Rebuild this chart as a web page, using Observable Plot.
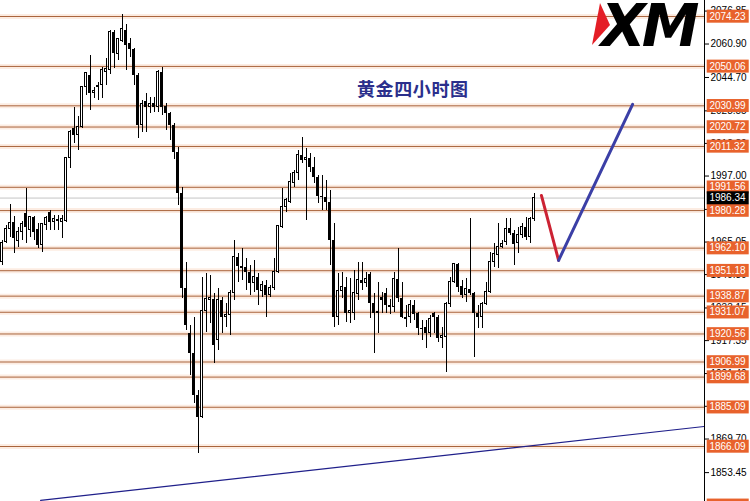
<!DOCTYPE html>
<html><head><meta charset="utf-8">
<script src="https://cdn.jsdelivr.net/npm/d3@7"></script>
<script src="https://cdn.jsdelivr.net/npm/@observablehq/plot@0.6"></script>
<style>
html,body{margin:0;padding:0;background:#fff;}
#wrap{position:relative;width:750px;height:501px;overflow:hidden;}
#title{position:absolute;left:357px;top:79px;line-height:18px;font-family:"Noto Sans CJK SC";font-size:18px;font-weight:700;letter-spacing:0.6px;color:#2b2f8c;white-space:nowrap;}
#logo{position:absolute;left:588px;top:0;overflow:visible;}
</style></head><body>
<div id="wrap"><div id="chart"></div><div id="title">黄金四小时图</div>
<svg id="logo" width="118" height="50"><polygon points="12,3 22,25 4,45" fill="#e41e26"/><text x="13" y="46" font-family="DejaVu Sans" font-size="58" font-weight="900" font-style="italic" letter-spacing="-4" fill="#000">XM</text></svg>
</div>
<script>
const open = [
1955.2,1964.9,1971.6,1974.5,1965.8,1969.7,1978.9,1970.7,1977.0,1971.2,
1963.4,1973.1,1979.4,1974.6,1975.3,1974.6,1975.0,2005.5,2020.0,2016.7,
2020.5,2039.9,2045.7,2037.0,2040.1,2040.9,2047.6,2048.1,2066.5,2056.3,
2062.6,2067.5,2061.2,2058.3,2045.7,2021.5,2033.1,2030.2,2032.1,2030.2,
2047.2,2030.7,2027.3,2021.5,2008.4,1988.6,1942.6,1920.8,1911.1,1890.8,
1880.2,1931.9,1936.8,1937.3,1917.4,1936.8,1928.6,1929.5,1940.2,1957.6,
1952.3,1952.8,1950.4,1945.0,1947.9,1941.6,1944.1,1939.2,1942.6,1950.4,
1972.1,1981.8,1984.2,1993.4,1998.3,2007.0,2004.6,2005.5,2001.2,1996.3,
1987.1,1986.6,1984.2,1965.8,1928.6,1941.6,1943.1,1930.5,1930.5,1939.7,
1946.5,1945.0,1949.4,1935.3,1930.5,1938.3,1940.2,1934.4,1933.4,1947.0,
1937.8,1928.6,1928.6,1934.4,1930.5,1923.2,1923.7,1920.8,1930.5,1928.6,
1918.4,1918.9,1934.9,1945.5,1954.2,1943.6,1939.2,1942.1,1940.2,1930.5,
1928.6,1935.3,1940.7,1955.2,1958.6,1962.5,1964.9,1971.6,1969.2,1964.4,
1968.7,1972.1,1967.3,1976.0];
const high = [
1965.8,1973.1,1983.3,1977.5,1972.1,1975.0,1991.0,1977.5,1977.5,1974.1,
1974.1,1977.5,1980.4,1977.9,1977.9,1977.9,2006.0,2019.1,2030.2,2025.9,
2040.4,2047.2,2055.4,2039.9,2042.3,2049.6,2053.9,2067.5,2067.5,2063.6,
2075.2,2070.4,2063.6,2058.8,2046.7,2033.6,2037.0,2035.1,2035.1,2048.1,
2049.6,2032.1,2027.8,2022.5,2010.9,1991.5,1955.2,1924.7,1928.6,1893.2,
1947.9,1949.9,1948.9,1940.2,1942.6,1938.3,1935.3,1941.6,1965.8,1959.5,
1962.0,1957.1,1953.7,1956.2,1949.9,1946.0,1946.5,1944.1,1957.1,1973.1,
1991.0,1986.2,1998.3,1999.7,2009.4,2015.7,2010.4,2007.9,2006.0,1997.3,
1997.3,1994.9,1990.0,1974.1,1949.9,1950.4,1947.9,1947.4,1951.3,1955.2,
1955.2,1950.4,1950.4,1940.2,1945.5,1940.7,1942.6,1937.3,1950.4,1962.0,
1945.5,1934.4,1936.8,1936.8,1931.0,1927.1,1927.1,1929.5,1931.0,1929.5,
1923.7,1935.8,1947.9,1954.7,1954.7,1946.5,1947.4,1976.5,1940.7,1934.4,
1935.8,1945.5,1960.0,1964.4,1974.1,1965.8,1976.5,1976.5,1970.7,1972.1,
1974.1,1977.0,1977.0,1988.6];
const low = [
1953.7,1964.4,1967.3,1959.5,1962.5,1965.8,1964.4,1967.3,1965.8,1962.0,
1960.0,1970.7,1970.7,1970.7,1970.7,1966.8,1974.6,2000.7,2012.8,2009.4,
2020.0,2036.0,2028.8,2034.6,2033.6,2034.6,2040.9,2046.2,2049.1,2053.0,
2061.7,2048.1,2054.4,2040.9,2015.2,2018.1,2018.1,2027.3,2027.8,2027.8,
2026.3,2019.1,2014.2,2005.0,1982.8,1937.8,1922.3,1900.5,1886.9,1862.7,
1879.7,1921.3,1925.7,1906.3,1912.6,1920.8,1923.7,1919.9,1936.8,1945.5,
1946.5,1941.6,1939.2,1940.7,1934.4,1938.3,1928.6,1938.3,1941.6,1949.9,
1971.6,1979.4,1983.7,1991.5,1994.9,2003.1,1975.5,1998.8,1993.4,1983.7,
1980.4,1980.4,1953.7,1923.7,1924.7,1937.8,1926.2,1925.7,1927.1,1936.8,
1941.6,1943.1,1928.1,1911.1,1920.8,1930.5,1930.5,1930.0,1931.0,1935.8,
1928.1,1923.7,1925.7,1927.1,1919.9,1917.4,1913.6,1918.9,1920.8,1916.5,
1913.6,1901.9,1933.4,1945.0,1940.7,1937.8,1935.8,1939.2,1909.2,1923.2,
1923.2,1934.4,1940.2,1952.8,1952.3,1962.0,1963.4,1968.3,1953.7,1959.5,
1966.8,1965.8,1964.4,1975.0];
const close = [
1964.4,1971.6,1974.5,1966.8,1969.7,1973.6,1972.1,1977.0,1969.7,1963.4,
1973.6,1976.5,1974.6,1976.0,1975.8,1976.0,2005.5,2018.1,2016.7,2020.5,
2039.9,2046.7,2037.0,2038.0,2040.4,2048.1,2048.6,2066.5,2056.3,2063.1,
2068.0,2060.2,2058.3,2045.7,2021.5,2031.7,2030.2,2032.1,2030.2,2047.2,
2030.2,2027.3,2021.5,2008.4,1988.6,1942.6,1924.7,1911.1,1890.8,1880.2,
1931.9,1937.3,1937.8,1915.0,1936.8,1928.6,1929.5,1940.2,1957.6,1953.3,
1952.8,1950.4,1945.0,1947.9,1941.6,1944.1,1939.2,1942.6,1950.4,1972.6,
1981.8,1985.2,1993.9,1998.3,2007.0,2004.6,2005.5,2001.2,1996.3,1987.1,
1986.4,1984.2,1965.8,1928.6,1941.6,1943.1,1930.5,1931.5,1940.2,1946.5,
1945.0,1947.0,1935.3,1930.5,1931.0,1936.8,1934.4,1933.4,1947.0,1937.8,
1928.6,1927.8,1934.4,1930.0,1923.2,1922.5,1920.8,1927.6,1928.6,1918.4,
1919.4,1935.3,1945.5,1954.2,1943.1,1939.2,1942.1,1940.2,1930.5,1928.6,
1935.3,1940.7,1955.2,1959.1,1962.5,1963.9,1971.6,1969.2,1963.9,1968.7,
1972.1,1967.3,1976.0,1986.34];

const levels = [2074.23,2050.06,2030.99,2020.72,2011.32,1991.56,1980.28,1962.10,1951.18,1938.87,1931.07,1920.56,1906.99,1899.68,1885.09,1866.09,1837.60];
const currentPrice = 1986.34;
const yTicks = [2076.85,2060.90,2044.70,2028.55,2012.80,1997.00,1980.85,1965.05,1949.30,1933.15,1917.35,1901.40,1885.55,1869.70,1853.45];

const trendX = [9.6, 175.6];
const trendY = [1840.0, 1875.8];
const downX = [134.8, 139.1];
const downY = [1987.6, 1956.2];
const upX = [139.1, 157.6];
const upY = [1956.2, 2031.7];

const candles = open.map((o, i) => ({i, o, h: high[i], l: low[i], c: close[i]}));
const bull = candles.filter(d => d.c >= d.o);
const bear = candles.filter(d => d.c < d.o);
const pts = (xs, ys) => xs.map((x, k) => ({x, y: ys[k]}));

const xDom = [-0.425, 175.575];
const chart = Plot.plot({
  width: 750, height: 501,
  marginLeft: 0, marginRight: 46, marginTop: 0, marginBottom: 0,
  style: {background: "#fff", fontFamily: "Liberation Sans", fontSize: "10px", color: "#000", overflow: "hidden"},
  x: {domain: xDom, axis: null},
  y: {domain: [1839.47, 2081.97], axis: "right", ticks: yTicks, tickFormat: d => d.toFixed(2), tickSize: 4, tickPadding: 2, label: null},
  marks: [
    Plot.ruleY(levels, {stroke: "#fcece2", strokeWidth: 5}),
    Plot.ruleY(levels, {stroke: "#a9643c", strokeWidth: 1}),
    Plot.ruleY([currentPrice], {stroke: "#c4c4c4", strokeWidth: 1}),
    Plot.line(pts(trendX, trendY), {x: "x", y: "y", stroke: "#1f1f8a", strokeWidth: 1.2, clip: true}),
    Plot.ruleX(candles, {x: "i", y1: "l", y2: "h", stroke: "#000", strokeWidth: 1, shapeRendering: "crispEdges"}),
    Plot.rect(bear, {x1: d => d.i - 0.375, x2: d => d.i + 0.375, y1: "o", y2: "c", fill: "#000", shapeRendering: "crispEdges"}),
    Plot.rect(bull, {x1: d => d.i - 0.25, x2: d => d.i + 0.25, y1: "o", y2: "c", fill: "#fff", stroke: "#000", strokeWidth: 1, shapeRendering: "crispEdges"}),
    Plot.line(pts(downX, downY), {x: "x", y: "y", stroke: "#cc2233", strokeWidth: 3}),
    Plot.line(pts(upX, upY), {x: "x", y: "y", stroke: "#3b3fa6", strokeWidth: 3}),
    Plot.ruleX([xDom[1]], {stroke: "#000", strokeWidth: 1}),
    Plot.text(levels, {y: d => d, frameAnchor: "right", textAnchor: "middle", dx: 23, text: d => d.toFixed(2), fill: "#fff", fontSize: 10, className: "lvl"}),
    Plot.text([currentPrice], {y: d => d, frameAnchor: "right", textAnchor: "middle", dx: 23, text: d => d.toFixed(2), fill: "#fff", fontSize: 10, className: "cur"})
  ]
});
document.getElementById("chart").appendChild(chart);
function boxes(sel, color) {
  chart.querySelectorAll(sel + " text").forEach(t => {
    const b = t.getBBox();
    const cx = b.x + b.width / 2;
    const r = document.createElementNS("http://www.w3.org/2000/svg", "rect");
    r.setAttribute("x", cx - 21); r.setAttribute("y", b.y - 1);
    r.setAttribute("width", 42); r.setAttribute("height", b.height + 2);
    r.setAttribute("fill", color);
    const tr = t.getAttribute("transform");
    if (tr) r.setAttribute("transform", tr);
    t.parentNode.insertBefore(r, t);
  });
}
boxes("g.lvl", "#e8622c");
boxes("g.cur", "#000");
</script>
</body></html>
